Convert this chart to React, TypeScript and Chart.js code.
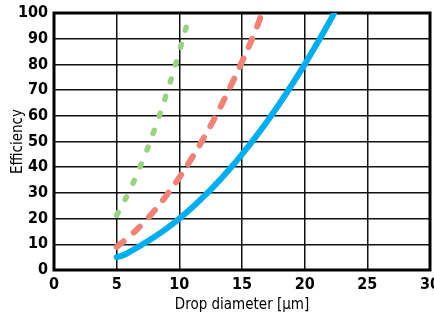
import React, { useEffect, useRef } from "react";
import { Chart, registerables } from "chart.js";

Chart.register(...registerables);

const xTicks = [0, 5, 10, 15, 20, 25, 30];
const yTicks = [0, 10, 20, 30, 40, 50, 60, 70, 80, 90, 100];

const blueX = [5, 5.5, 6, 7, 8, 9, 10, 11, 12, 13, 14, 15, 16, 17, 18, 19, 20, 21, 22, 22.35];
const blueY = [5, 5.7, 7, 9.8, 12.8, 16.2, 20, 24.2, 28.8, 33.8, 39.2, 45, 51.2, 57.8, 64.8, 72.2, 80, 88.2, 96.8, 100];

const redX = [5, 6, 7, 8, 9, 10, 11, 12, 13, 14, 15, 16, 16.6];
const redY = [9, 13, 17.6, 23, 29.2, 36, 43.6, 51.8, 60.8, 70.6, 81, 92.2, 100];

const greenX = [5, 6, 7, 8, 9, 10, 10.85];
const greenY = [21.3, 30.6, 41.7, 54.4, 68.9, 85, 100];

const toPoints = (xs: number[], ys: number[]) => xs.map((x, i) => ({ x, y: ys[i] }));

const FONT = "'Liberation Sans Narrow', 'DejaVu Sans Condensed', 'Liberation Sans', sans-serif";

const framePlugin = {
  id: "frame",
  beforeDatasetsDraw(chart: any) {
    const { ctx, chartArea } = chart;
    ctx.save();
    ctx.strokeStyle = "#000";
    ctx.lineWidth = 3;
    ctx.strokeRect(chartArea.left, chartArea.top, chartArea.right - chartArea.left, chartArea.bottom - chartArea.top);
    ctx.restore();
  },
};

export default function App() {
  const ref = useRef<HTMLCanvasElement>(null);
  useEffect(() => {
    if (!ref.current) return;
    const chart = new Chart(ref.current, {
      type: "line",
      data: {
        datasets: [
          {
            data: toPoints(greenX, greenY),
            borderColor: "#9AD283",
            borderWidth: 5.5,
            borderDash: [3, 15],
            borderCapStyle: "round",
            pointRadius: 0,
            tension: 0.4,
            fill: false,
          },
          {
            data: toPoints(redX, redY),
            borderColor: "#F08377",
            borderWidth: 6,
            borderDash: [9, 13],
            borderCapStyle: "round",
            pointRadius: 0,
            tension: 0.4,
            fill: false,
          },
          {
            data: toPoints(blueX, blueY),
            borderColor: "#00AEEF",
            borderWidth: 6,
            borderCapStyle: "round",
            pointRadius: 0,
            tension: 0.4,
            fill: false,
          },
        ],
      },
      options: {
        responsive: false,
        animation: false,
        layout: { padding: { left: 0, top: 13, right: 4, bottom: 0 } },
        plugins: { legend: { display: false }, tooltip: { enabled: false } },
        scales: {
          x: {
            type: "linear",
            min: 0,
            max: 30,
            afterBuildTicks: (s: any) => {
              s.ticks = xTicks.map((v) => ({ value: v }));
            },
            afterFit: (s: any) => {
              s.height = 50;
              s.paddingLeft = 0;
              s.paddingRight = 0;
            },
            grid: { color: "#111", lineWidth: 1.5, drawTicks: false },
            border: { display: false },
            ticks: {
              padding: 5,
              color: "#000",
              font: { family: FONT, size: 16, weight: "bold" },
              maxRotation: 0,
              autoSkip: false,
            },
            title: {
              display: true,
              text: "Drop diameter [µm]",
              color: "#000",
              font: { family: FONT, size: 15 },
              padding: { top: 0, bottom: 6 },
            },
          },
          y: {
            type: "linear",
            min: 0,
            max: 100,
            afterBuildTicks: (s: any) => {
              s.ticks = yTicks.map((v) => ({ value: v }));
            },
            afterFit: (s: any) => {
              s.width = 54;
              s.paddingTop = 0;
              s.paddingBottom = 0;
            },
            grid: { color: "#111", lineWidth: 1.5, drawTicks: false },
            border: { display: false },
            ticks: {
              padding: 6,
              color: "#000",
              font: { family: FONT, size: 16, weight: "bold" },
              autoSkip: false,
            },
            title: {
              display: true,
              text: "Efficiency",
              color: "#000",
              font: { family: FONT, size: 15 },
              padding: { top: 9, bottom: 0 },
            },
          },
        },
      },
      plugins: [framePlugin],
    });
    return () => chart.destroy();
  }, []);
  return (
    <div style={{ position: "fixed", left: 0, top: 0, width: 434, height: 320, background: "#fff" }}>
      <canvas ref={ref} width={434} height={320} />
    </div>
  );
}
